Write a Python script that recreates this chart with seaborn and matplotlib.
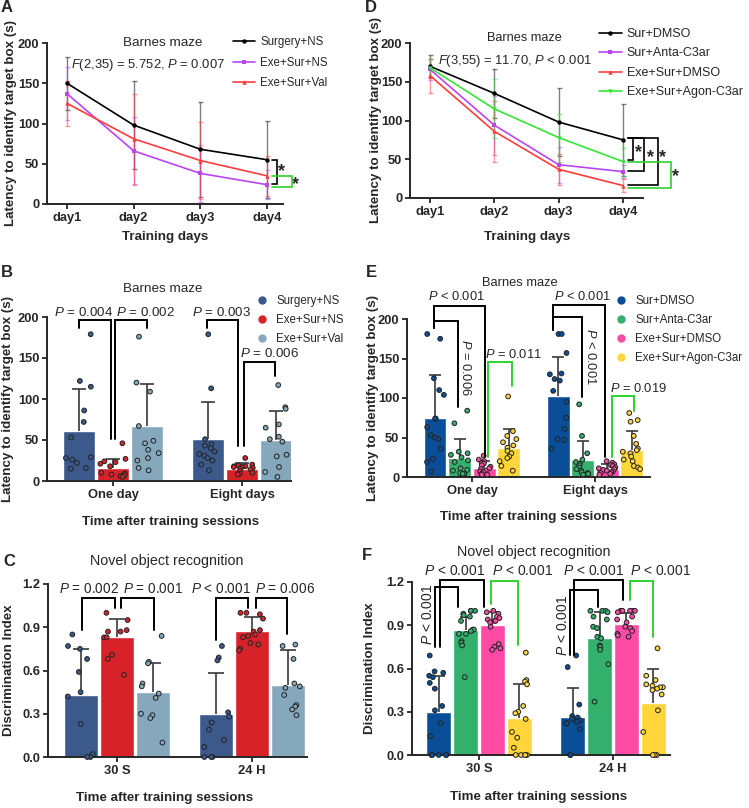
import numpy as np
import pandas as pd
import matplotlib
matplotlib.use("Agg")
import matplotlib.pyplot as plt
import seaborn as sns
from matplotlib.lines import Line2D
from matplotlib.container import BarContainer

W, H = 749, 808

# ----------------------------- values ----------------------------- #
days = [1, 2, 3, 4]
day_labels = ["day1", "day2", "day3", "day4"]

# A - Barnes maze training curve (mean, SD)
a_groups = ["Surgery+NS", "Exe+Sur+NS", "Exe+Sur+Val"]
a_mean = [[150, 98, 68, 55], [137, 66, 38, 24], [125, 81, 54, 35]]
a_sd = [[33, 55, 59, 48], [33, 42, 35, 18], [28, 56, 48, 25]]

# D - Barnes maze training curve, C3ar groups
d_groups = ["Sur+DMSO", "Sur+Anta-C3ar", "Exe+Sur+DMSO", "Exe+Sur+Agon-C3ar"]
d_mean = [[170, 135, 98, 75], [166, 94, 43, 34], [158, 86, 37, 16], [168, 115, 78, 47]]
d_sd = [[14, 32, 44, 46], [14, 38, 23, 8], [22, 39, 20, 8], [12, 38, 31, 18]]

# B - Barnes maze probe after training
b_times = ["One day", "Eight days"]
b_mean = [[61, 51], [16, 15], [67, 50]]
b_sd = [[51, 45], [11, 6.5], [51, 35]]
b_surgery = [[179, 122, 115, 86, 72, 53, 29, 28, 26, 22, 16, 15],
             [179, 113, 51, 45, 43, 40, 36, 33, 31, 28, 25, 20, 13]]
b_exe_ns = [[46, 27, 24, 23, 21, 18, 10, 9, 8, 7, 6, 5],
            [28, 20, 19, 18, 18, 17, 17, 16, 15, 14, 12, 10, 9, 8]]
b_exe_val = [[176, 120, 109, 67, 49, 46, 38, 34, 28, 25, 16, 13],
             [117, 90, 88, 69, 65, 54, 51, 48, 32, 30, 17, 11, 5]]

# E - Barnes maze probe, C3ar groups
e_mean = [[75, 102], [24, 22], [11.5, 10], [37, 34]]
e_sd = [[54, 50], [24, 23], [8.5, 6], [24, 24]]
e_sur_dmso = [[181, 175, 125, 110, 104, 74, 74, 63, 53, 50, 48, 36, 23, 19, 7],
              [181, 181, 157, 131, 130, 124, 122, 109, 95, 75, 61, 48, 47, 36]]
e_sur_anta = [[84, 68, 32, 30, 28, 25, 21, 19, 11, 9, 8, 5, 4, 4],
              [92, 52, 30, 22, 19, 17, 15, 12, 10, 8, 6, 5, 4, 3]]
e_exe_dmso = [[27, 22, 20, 18, 17, 15, 13, 11, 10, 8, 7, 6, 4, 3, 3],
              [20, 18, 16, 15, 14, 12, 11, 10, 9, 8, 7, 6, 5, 4, 3]]
e_exe_agon = [[102, 58, 52, 48, 44, 40, 37, 33, 30, 26, 24, 20, 14, 8],
              [81, 72, 70, 52, 42, 36, 34, 32, 30, 26, 22, 20, 14, 12, 10]]

# C - Novel object recognition
c_times = ["30 S", "24 H"]
c_mean = [[0.43, 0.30], [0.83, 0.875], [0.45, 0.50]]
c_sd = [[0.32, 0.285], [0.125, 0.095], [0.205, 0.24]]
c_surgery = [[0.85, 0.77, 0.75, 0.68, 0.59, 0.45, 0.42, 0.23, 0.02, 0.0, 0.0],
             [0.77, 0.69, 0.67, 0.31, 0.28, 0.24, 0.19, 0.12, 0.07, 0.0, 0.0, 0.0]]
c_exe_ns = [[1.0, 0.95, 0.88, 0.87, 0.87, 0.83, 0.83, 0.71, 0.68, 0.57],
            [1.0, 1.0, 0.99, 0.96, 0.88, 0.87, 0.85, 0.84, 0.83, 0.79, 0.78, 0.75, 0.74]]
c_exe_val = [[0.84, 0.66, 0.65, 0.51, 0.49, 0.44, 0.41, 0.30, 0.29, 0.27, 0.10],
             [0.78, 0.77, 0.68, 0.51, 0.49, 0.48, 0.43, 0.36, 0.35, 0.33, 0.29]]

# F - Novel object recognition, C3ar groups
f_mean = [[0.30, 0.265], [0.865, 0.815], [0.90, 0.91], [0.255, 0.36]]
f_sd = [[0.25, 0.20], [0.095, 0.175], [0.09, 0.075], [0.235, 0.235]]
f_sur_dmso = [[0.69, 0.58, 0.57, 0.55, 0.54, 0.50, 0.46, 0.34, 0.31, 0.22, 0.13, 0, 0, 0, 0, 0],
              [0.69, 0.61, 0.35, 0.27, 0.26, 0.25, 0.24, 0.23, 0.22, 0.22, 0.18, 0, 0]]
f_sur_anta = [[1.0, 1.0, 1.0, 0.98, 0.97, 0.96, 0.93, 0.87, 0.87, 0.86, 0.84, 0.84, 0.79, 0.78, 0.76, 0.54],
              [1.0, 1.0, 1.0, 0.99, 0.96, 0.94, 0.89, 0.88, 0.82, 0.81, 0.76, 0.75, 0.73, 0.63, 0.37]]
f_exe_dmso = [[1.0, 0.99, 0.98, 0.96, 0.95, 0.94, 0.93, 0.93, 0.92, 0.89, 0.77, 0.75, 0.74, 0.73],
              [1.0, 1.0, 1.0, 1.0, 1.0, 0.99, 0.96, 0.94, 0.92, 0.89, 0.88, 0.86, 0.84, 0.83, 0.82]]
f_exe_agon = [[0.71, 0.52, 0.51, 0.49, 0.34, 0.30, 0.29, 0.25, 0.16, 0.12, 0.05, 0, 0, 0, 0, 0],
              [0.74, 0.55, 0.52, 0.49, 0.48, 0.47, 0.47, 0.46, 0.45, 0.42, 0.31, 0.16, 0, 0, 0]]

# ----------------------------- style ----------------------------- #
NS_COLORS = ["#3B5A8B", "#D7222A", "#86A8BC"]
C3_COLORS = ["#0B4E98", "#33B06B", "#FF4BA6", "#FFD53C"]
LINE_A = ["#000000", "#BB44F2", "#FF3D3D"]
LINE_D = ["#000000", "#BB44F2", "#FF3D3D", "#33E633"]
GREEN = "#2FD12F"

sns.set_style("ticks")
plt.rcParams["font.family"] = ["Liberation Sans", "DejaVu Sans"]
plt.rcParams["mathtext.fontset"] = "custom"
plt.rcParams["mathtext.it"] = "Liberation Sans:italic"
plt.rcParams["mathtext.rm"] = "Liberation Sans"

fig = plt.figure(figsize=(W / 100, H / 100), dpi=100)


def fx(px):
    return px / W


def fy(py):
    return 1 - py / H


def add_ax(l, r, t, b):
    return fig.add_axes([l / W, 1 - b / H, (r - l) / W, (b - t) / H])


def ftext(px, py, s, **kw):
    fig.text(fx(px), fy(py), s, **kw)


def P(s):
    return "$\\it{P}$ " + s


def finish(ax, xlabel, ylabel, xlab, ylab, yticks, fmt):
    sns.despine(ax=ax)
    for side in ("left", "bottom"):
        ax.spines[side].set_linewidth(1.4)
    ax.tick_params(direction="out", length=3.5, width=1.3, pad=2)
    ax.set_yticks(yticks, [fmt.format(v) for v in yticks])
    for t in ax.get_xticklabels() + ax.get_yticklabels():
        t.set_fontweight("bold")
        t.set_fontsize(9.3)
    ax.set_xlabel(xlabel, fontsize=9.6, fontweight="bold")
    ax.set_ylabel(ylabel, fontsize=9.6, fontweight="bold")
    ax.xaxis.set_label_coords(fx(xlab[0]), fy(xlab[1]), transform=fig.transFigure)
    ax.yaxis.set_label_coords(fx(ylab[0]), fy(ylab[1]), transform=fig.transFigure)
    ax.xaxis.label.set_va("center")
    ax.yaxis.label.set_va("center")


def line_panel(ax, groups, means, sds, colors, markers):
    df = pd.DataFrame({"day": np.tile(days, len(groups)),
                       "latency": np.ravel(means),
                       "group": np.repeat(groups, len(days))})
    for i in range(len(groups)):
        ax.errorbar(days, means[i], yerr=sds[i], fmt="none", ecolor=colors[i], alpha=0.5,
                    elinewidth=1, capsize=1.8, capthick=1, zorder=1)
    sns.lineplot(data=df, x="day", y="latency", hue="group", style="group",
                 hue_order=groups, style_order=groups, palette=colors, markers=markers,
                 dashes=False, markersize=3.2, markeredgewidth=0, linewidth=1.2,
                 legend=False, ax=ax, zorder=3)
    ax.set_xticks(days, day_labels)
    ax.set_ylim(0, 200)
    return [Line2D([], [], color=c, marker=m, markersize=3.2, markeredgewidth=0, lw=1.2)
            for c, m in zip(colors, markers)]


def bar_panel(ax, groups, times, means, sds, points, colors, cap, seed):
    summ = pd.DataFrame({"time": np.tile(times, len(groups)),
                         "group": np.repeat(groups, len(times)),
                         "value": np.ravel(means)})
    sns.barplot(data=summ, x="time", y="value", hue="group", order=times, hue_order=groups,
                palette=colors, errorbar=None, width=0.8, gap=0.07, saturation=1,
                legend=False, ax=ax, zorder=1)
    bars = [c for c in ax.containers if isinstance(c, BarContainer)]
    for i, cont in enumerate(bars):
        xs = [p.get_x() + p.get_width() / 2 for p in cont]
        tops = [p.get_height() for p in cont]
        eb = ax.errorbar(xs, tops, yerr=[np.zeros(len(xs)), sds[i]], fmt="none",
                         ecolor="#3a3a3a", elinewidth=1.2, capsize=cap, capthick=1.2, zorder=3)
        eb[1][0].set_visible(False)
    rows = [(t, g, v) for gi, g in enumerate(groups) for ti, t in enumerate(times)
            for v in points[gi][ti]]
    pts = pd.DataFrame(rows, columns=["time", "group", "value"])
    np.random.seed(seed)
    sns.stripplot(data=pts, x="time", y="value", hue="group", order=times, hue_order=groups,
                  palette=colors, dodge=True, jitter=0.3, size=3.4, linewidth=0.7,
                  edgecolor="#222222", legend=False, ax=ax, zorder=4, clip_on=False)
    return [Line2D([], [], ls="", marker="o", markersize=5, color=c) for c in colors]


def legend(ax, handles, labels, px, py, size, **kw):
    ax.legend(handles, labels, loc="upper left", bbox_to_anchor=(fx(px), fy(py)),
              bbox_transform=fig.transFigure, frameon=False, fontsize=size,
              borderpad=0, borderaxespad=0, **kw)


def bracket(ax, x1, x2, top, y1, y2, color="black", lw=1.4):
    ax.plot([x1, x1, x2, x2], [y1, top, top, y2], color=color, lw=lw, clip_on=False,
            solid_joinstyle="miter", zorder=6)


def side_bracket(ax, x0, x1, y1, y2, color="black", lw=1.2):
    ax.plot([x0, x1, x1, x0], [y1, y1, y2, y2], color=color, lw=lw, clip_on=False,
            solid_joinstyle="miter", zorder=6)


def label(ax, x, y, s, size=9.6, rot=0):
    ax.text(x, y, s, ha="center", va="center", fontsize=size, rotation=rot,
            rotation_mode="anchor", clip_on=False)


def star(ax, x, y):
    ax.text(x, y, "*", ha="center", va="center", fontsize=13, fontweight="bold", clip_on=False)


# ----------------------------- panel A ----------------------------- #
ax = add_ax(47, 283, 43, 204)
h = line_panel(ax, a_groups, a_mean, a_sd, LINE_A, ["o", "s", "^"])
ax.set_xlim(0.70, 4.24)
finish(ax, "Training days", "Latency to identify target box (s)", (165, 237), (11, 123),
       [0, 50, 100, 150, 200], "{:.0f}")
legend(ax, h, a_groups, 233, 36, 8.3, handlelength=1.9, handletextpad=0.45, labelspacing=0.75)
side_bracket(ax, 4.07, 4.15, 54.8, 24.9)
star(ax, 4.22, 40)
side_bracket(ax, 4.07, 4.37, 35.3, 21.6, color=GREEN)
star(ax, 4.43, 24)
ftext(163, 43, "Barnes maze", ha="center", va="center", fontsize=9.7)
ftext(71, 65, "$\\it{F}$(2,35) = 5.752, $\\it{P}$ = 0.007", ha="left", va="center", fontsize=9.4)

# ----------------------------- panel D ----------------------------- #
ax = add_ax(410, 643, 43, 198)
h = line_panel(ax, d_groups, d_mean, d_sd, LINE_D, ["o", "s", "^", "v"])
ax.set_xlim(0.69, 4.31)
finish(ax, "Training days", "Latency to identify target box (s)", (527, 237), (376, 120),
       [0, 50, 100, 150, 200], "{:.0f}")
legend(ax, h, d_groups, 599, 28, 9, handlelength=1.8, handletextpad=0.4, labelspacing=0.6)
side_bracket(ax, 4.083, 4.16, 78, 49)
star(ax, 4.24, 58)
side_bracket(ax, 4.083, 4.33, 78, 35.3)
star(ax, 4.42, 52)
side_bracket(ax, 4.083, 4.55, 78, 16.8)
star(ax, 4.61, 52)
side_bracket(ax, 4.083, 4.746, 47, 13.4, color=GREEN)
star(ax, 4.82, 28)
ftext(524, 38, "Barnes maze", ha="center", va="center", fontsize=9.2)
ftext(438, 61, "$\\it{F}$(3,55) = 11.70, $\\it{P}$ < 0.001", ha="left", va="center", fontsize=9.4)

# ----------------------------- panel B ----------------------------- #
ax = add_ax(47, 291, 317, 481)
h = bar_panel(ax, a_groups, b_times, b_mean, b_sd, [b_surgery, b_exe_ns, b_exe_val],
              NS_COLORS, 5, 4)
ax.set_xlim(-0.512, 1.38)
ax.set_ylim(0, 200)
finish(ax, "Time after training sessions", "Latency to identify target box (s)",
       (171, 522), (8, 399), [0, 50, 100, 150, 200], "{:.0f}")
legend(ax, h, a_groups, 256, 295, 8.3, handlelength=1.0, handletextpad=0.75, labelspacing=0.6)
bracket(ax, -0.264, -0.018, 196, 186, 51)
bracket(ax, 0.016, 0.267, 196, 51, 186)
bracket(ax, 0.726, 0.967, 196, 186, 43)
bracket(ax, 1.016, 1.256, 145, 43, 128)
label(ax, -0.225, 206, P("= 0.004"))
label(ax, 0.25, 206, P("= 0.002"))
label(ax, 0.842, 206, P("= 0.003"))
label(ax, 1.21, 155, P("= 0.006"))
ftext(163, 289, "Barnes maze", ha="center", va="center", fontsize=9.7)

# ----------------------------- panel E ----------------------------- #
ax = add_ax(407, 650, 319, 477)
h = bar_panel(ax, d_groups, b_times, e_mean, e_sd,
              [e_sur_dmso, e_sur_anta, e_exe_dmso, e_exe_agon], C3_COLORS, 4, 7)
ax.set_xlim(-0.528, 1.447)
ax.set_ylim(0, 200)
finish(ax, "Time after training sessions", "Latency to identify target box (s)",
       (529, 517), (373, 398), [0, 50, 100, 150, 200], "{:.0f}")
legend(ax, h, d_groups, 615, 295, 8.3, handlelength=1.0, handletextpad=0.75, labelspacing=0.6)
bracket(ax, -0.31, 0.106, 216, 188, 25)
bracket(ax, -0.31, -0.11, 198, 188, 89)
bracket(ax, 0.127, 0.328, 145, 25, 115, color=GREEN)
bracket(ax, 0.661, 1.081, 218, 186, 25)
bracket(ax, 0.661, 0.897, 203, 186, 101)
bracket(ax, 1.141, 1.32, 102.5, 25, 83, color=GREEN)
label(ax, -0.122, 228, P("< 0.001"), 9.3)
label(ax, -0.05, 139, P("= 0.006"), 9.3, rot=270)
label(ax, 0.339, 155, P("= 0.011"), 9.3)
label(ax, 0.894, 229, P("< 0.001"), 9.3)
label(ax, 0.96, 153, P("< 0.001"), 9.3, rot=270)
label(ax, 1.35, 112, P("= 0.019"), 9.3)
ftext(520, 283, "Barnes maze", ha="center", va="center", fontsize=9.3)

# ----------------------------- panel C ----------------------------- #
ax = add_ax(48, 307, 584, 757)
h = bar_panel(ax, a_groups, c_times, c_mean, c_sd, [c_surgery, c_exe_ns, c_exe_val],
              NS_COLORS, 5.5, 11)
ax.set_xlim(-0.511, 1.407)
ax.set_ylim(0, 1.2)
finish(ax, "Time after training sessions", "Discrimination Index", (165, 798), (9, 670),
       [0, 0.3, 0.6, 0.9, 1.2], "{:.1f}")
bracket(ax, -0.262, -0.015, 1.10, 0.882, 1.033)
bracket(ax, 0.027, 0.274, 1.10, 1.033, 0.882)
bracket(ax, 0.733, 0.973, 1.10, 0.81, 1.033)
bracket(ax, 1.03, 1.257, 1.10, 1.033, 0.854)
label(ax, -0.21, 1.165, P("= 0.002"), 9.8)
label(ax, 0.264, 1.165, P("= 0.001"), 9.8)
label(ax, 0.768, 1.165, P("< 0.001"), 9.8)
label(ax, 1.247, 1.165, P("= 0.006"), 9.8)
ftext(167, 561, "Novel object recognition", ha="center", va="center", fontsize=10.3)

# ----------------------------- panel F ----------------------------- #
ax = add_ax(412, 670, 582, 755)
h = bar_panel(ax, d_groups, c_times, f_mean, f_sd,
              [f_sur_dmso, f_sur_anta, f_exe_dmso, f_exe_agon], C3_COLORS, 4, 21)
ax.set_xlim(-0.5, 1.425)
ax.set_ylim(0, 1.2)
finish(ax, "Time after training sessions", "Discrimination Index", (539, 797), (370, 668),
       [0, 0.3, 0.6, 0.9, 1.2], "{:.1f}")
bracket(ax, -0.291, 0.04, 1.216, 0.748, 1.026)
bracket(ax, -0.328, -0.159, 1.165, 0.748, 1.026)
bracket(ax, 0.09, 0.293, 1.205, 1.05, 0.765, color=GREEN)
bracket(ax, 0.711, 1.077, 1.216, 0.695, 1.077)
bracket(ax, 0.679, 0.886, 1.147, 0.695, 1.026)
bracket(ax, 1.127, 1.30, 1.21, 1.077, 0.818, color=GREEN)
label(ax, -0.179, 1.274, P("< 0.001"), 10)
label(ax, 0.323, 1.274, P("< 0.001"), 10)
label(ax, 0.858, 1.274, P("< 0.001"), 10)
label(ax, 1.356, 1.274, P("< 0.001"), 10)
label(ax, -0.383, 0.973, P("< 0.001"), 10, rot=90)
label(ax, 0.624, 0.898, P("< 0.001"), 10, rot=90)
ftext(534, 552, "Novel object recognition", ha="center", va="center", fontsize=10.3)

# ----------------------------- panel letters ----------------------------- #
for letter, px, py in [("A", 7, 8), ("B", 7, 272), ("C", 9, 562),
                       ("D", 371, 8), ("E", 371, 272), ("F", 367, 556)]:
    ftext(px, py, letter, ha="center", va="center", fontsize=12, fontweight="bold")

fig.savefig("out.png", dpi=100)
